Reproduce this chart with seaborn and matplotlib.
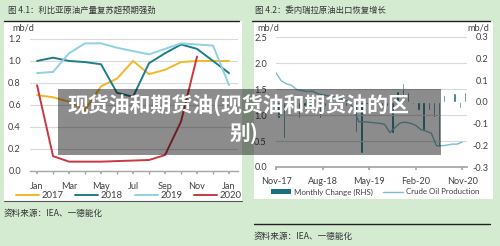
import matplotlib
matplotlib.use("Agg")
import matplotlib.pyplot as plt
import seaborn as sns
import pandas as pd
import numpy as np
from matplotlib.patches import Rectangle
from matplotlib.lines import Line2D

# ---------------- data ----------------
month_idx = list(range(13))                     # Jan .. next Jan
left_tick_pos = [0, 2, 4, 6, 8, 10, 12]
left_tick_labels = ["Jan", "Mar", "May", "Jul", "Sep", "Nov", "Jan"]
years = ["2017", "2018", "2019", "2020"]
v2017 = [0.69, 0.67, 0.63, 0.555, 0.77, 0.84, 1.00, 0.88, 0.92, 0.99, 1.00, 1.00, 1.00]
v2018 = [1.00, 1.03, 1.00, 0.99, 0.97, 0.71, 0.675, 0.98, 1.07, 1.15, 1.11, 1.00, 0.89]
v2019 = [0.89, 0.90, 1.07, 1.16, 1.16, 1.12, 1.09, 1.06, 1.11, 1.16, 1.15, 1.14, 0.78]
v2020 = [0.78, 0.135, 0.085, 0.085, 0.085, 0.09, 0.095, 0.10, 0.145, 0.45, 1.04]

ven_idx = list(range(37))                       # Nov-17 .. Nov-20
right_tick_pos = [0, 9, 18, 27, 36]
right_tick_labels = ["Nov-17", "Aug-18", "May-19", "Feb-20", "Nov-20"]
production = [1.81, 1.66, 1.60, 1.57, 1.49, 1.47, 1.45, 1.46, 1.41, 1.39, 1.37, 1.35,
              1.32, 1.30, 1.26, 1.12, 0.87, 0.87, 0.86, 0.85, 0.84, 0.82, 0.66, 0.76,
              0.85, 0.86, 0.84, 0.80, 0.72, 0.69, 0.65, 0.41, 0.41, 0.42, 0.44, 0.44, 0.48]
monthly_change = [-0.074, -0.166, -0.05, -0.03, -0.074, -0.02, -0.02, 0.01, -0.074, -0.02,
                  -0.02, -0.02, -0.03, -0.02, -0.04, -0.137, -0.237, -0.01, -0.01, -0.01,
                  -0.02, -0.02, -0.145, 0.05, 0.089, 0.047, -0.01, -0.037, -0.129, -0.037,
                  -0.068, -0.206, 0.03, 0.005, 0.04, -0.03, 0.047]

title_left = "图 4.1：利比亚原油产量复苏超预期强劲"
title_right = "图 4.2：委内瑞拉原油出口恢复增长"
source_text = "资料来源：IEA、一德能化"
overlay_line1 = "现货油和期货油(现货油和期货油的区"
overlay_line2 = "别)"

# ---------------- style ----------------
sns.set_theme(style="white")
plt.rcParams['font.family'] = ['Lato', 'Noto Sans CJK SC', 'DejaVu Sans']
CJK = ['Noto Sans CJK SC', 'DejaVu Sans']
BG = "#d4ebd2"
TXT = "#404040"
GRID = "#d9d9d9"
AXC = "#a6a6a6"
C2017, C2018, C2019, C2020 = "#f4b626", "#1d7d8c", "#8fd0e4", "#c9383f"
BAR = "#1a6f80"
PROD = "#7fbcd0"

W, H = 500, 246
def fx(x): return x / W
def fy(y): return 1 - y / H

fig = plt.figure(figsize=(5, 2.46), dpi=100, facecolor=BG)

# panel backgrounds and rules
fig.add_artist(Rectangle((fx(4), fy(200.5)), (242 - 4) / W, (200.5 - 21) / H,
                         transform=fig.transFigure, facecolor="white", edgecolor="none", zorder=-5))
fig.add_artist(Rectangle((fx(254), fy(199)), (493 - 254) / W, (199 - 21) / H,
                         transform=fig.transFigure, facecolor="white", edgecolor="none", zorder=-5))
fig.add_artist(Line2D([fx(4), fx(239)], [fy(20.5)] * 2, transform=fig.transFigure, color="#222222", lw=1.0))
fig.add_artist(Line2D([fx(252), fx(490)], [fy(20.5)] * 2, transform=fig.transFigure, color="#222222", lw=1.0))
fig.add_artist(Line2D([fx(4), fx(242)], [fy(200.7)] * 2, transform=fig.transFigure, color="#555555", lw=0.8))
fig.add_artist(Line2D([fx(254), fx(490)], [fy(224)] * 2, transform=fig.transFigure, color="#222222", lw=1.0))

fig.text(fx(8), fy(10), title_left, fontsize=6, color="#333333", family=CJK, va="center", ha="left")
fig.text(fx(255), fy(10), title_right, fontsize=6, color="#333333", family=CJK, va="center", ha="left")
fig.text(fx(4), fy(213), source_text, fontsize=6.2, color="#333333", family=CJK, va="center", ha="left")
fig.text(fx(254), fy(236), source_text, fontsize=6.2, color="#333333", family=CJK, va="center", ha="left")

# ---------------- left chart ----------------
axL = fig.add_axes([fx(30), fy(171), (238 - 30) / W, (171 - 35) / H])
axL.patch.set_visible(False)
rows = []
for yr, vals in zip(years, [v2017, v2018, v2019, v2020]):
    for m, v in zip(month_idx, vals):
        rows.append({"month": m, "value": v, "year": yr})
dfL = pd.DataFrame(rows)
sns.lineplot(data=dfL, x="month", y="value", hue="year", hue_order=years,
             palette=[C2017, C2018, C2019, C2020], linewidth=1.4, ax=axL)
axL.set_xlim(-0.44, 12.56)
axL.set_ylim(0, 1.236)
axL.set_xlabel("")
axL.set_ylabel("")
axL.set_yticks([0, 0.2, 0.4, 0.6, 0.8, 1.0, 1.2])
axL.set_yticklabels(["0.0", "0.2", "0.4", "0.6", "0.8", "1.0", "1.2"])
axL.set_xticks(left_tick_pos)
axL.set_xticklabels(left_tick_labels)
axL.set_xticks(month_idx, minor=True)
axL.yaxis.grid(True, color=GRID, lw=0.8)
axL.xaxis.grid(False)
axL.set_axisbelow(True)
for s in ["top", "right", "left"]:
    axL.spines[s].set_visible(False)
axL.spines["bottom"].set_color(AXC)
axL.spines["bottom"].set_linewidth(1.0)
axL.tick_params(axis="y", length=0, pad=6.5, labelsize=6.6, labelcolor=TXT)
axL.tick_params(axis="x", which="both", length=2.5, color=AXC, direction="out", bottom=True,
                pad=5.5, labelsize=6.6, labelcolor=TXT)
fig.text(fx(12), fy(28), "mb/d", fontsize=6.6, color=TXT, va="center", ha="left")
sns.move_legend(axL, "center", bbox_to_anchor=(fx(129), fy(196)), bbox_transform=fig.transFigure,
                ncol=4, frameon=False, title=None, fontsize=6.8, handlelength=2.4,
                columnspacing=1.25, handletextpad=0.3, labelcolor=TXT)

# ---------------- right chart ----------------
axR = fig.add_axes([fx(276), fy(167), (467 - 276) / W, (167 - 33) / H])
axR2 = axR.twinx()
axR.set_zorder(2)
axR2.set_zorder(1)
axR.patch.set_visible(False)
axR2.patch.set_visible(False)

bar_x = [i + 0.5 for i in ven_idx]
sns.barplot(x=bar_x, y=monthly_change, native_scale=True, width=0.45, color=BAR,
            saturation=1, errorbar=None, ax=axR2)
sns.lineplot(x=ven_idx, y=production, color=PROD, linewidth=1.0, ax=axR)

for a in (axR, axR2):
    a.set_xlim(0, 36.9)
    for s in ["top", "right", "left", "bottom"]:
        a.spines[s].set_visible(False)
axR.spines["bottom"].set_visible(True)
axR.spines["bottom"].set_color(AXC)
axR.set_ylim(0, 2.577)
axR2.set_ylim(-0.3, 0.318)
axR.set_yticks([0, 0.5, 1.0, 1.5, 2.0, 2.5])
axR.set_yticklabels(["0.0", "0.5", "1.0", "1.5", "2.0", "2.5"])
axR2.set_yticks([-0.3, -0.2, -0.1, 0.0, 0.1, 0.2, 0.3])
axR2.set_yticklabels(["-0.3", "-0.2", "-0.1", "0.0", "0.1", "0.2", "0.3"])
axR.set_xticks(right_tick_pos)
axR.set_xticklabels(right_tick_labels)
axR.yaxis.grid(True, color=GRID, lw=0.8)
axR.xaxis.grid(False)
axR2.grid(False)
axR.set_xlabel(""); axR.set_ylabel(""); axR2.set_ylabel(""); axR2.set_xlabel("")
axR.tick_params(axis="y", length=0, pad=6.5, labelsize=6.6, labelcolor=TXT)
axR2.tick_params(axis="y", length=0, pad=15.5, labelsize=6.6, labelcolor=TXT)
for lab in axR2.get_yticklabels():
    lab.set_horizontalalignment("right")
axR.tick_params(axis="x", length=2.5, color=AXC, direction="out", bottom=True,
                pad=5, labelsize=6.6, labelcolor=TXT)
axR2.tick_params(axis="x", bottom=False, labelbottom=False)
fig.text(fx(257), fy(28), "mb/d", fontsize=6.6, color=TXT, va="center", ha="left")
fig.text(fx(489), fy(28), "mb/d", fontsize=6.6, color=TXT, va="center", ha="right")

handles = [Rectangle((0, 0), 1, 1, facecolor=BAR, edgecolor="none"),
           Line2D([], [], color=PROD, lw=1.0)]
axR.legend(handles, ["Monthly Change (RHS)", "Crude Oil Production"], loc="center",
           bbox_to_anchor=(fx(375), fy(192)), bbox_transform=fig.transFigure, ncol=2,
           frameon=False, fontsize=5.7, handlelength=2.6, handleheight=0.45,
           columnspacing=1.3, handletextpad=0.3, labelcolor=TXT)

# ---------------- overlay banner ----------------
fig.add_artist(Rectangle((fx(58), fy(155)), (441 - 58) / W, (155 - 89) / H,
                         transform=fig.transFigure, facecolor="black", alpha=0.45,
                         edgecolor="none", zorder=20))
fig.text(fx(238), fy(106), overlay_line1, fontsize=15, fontweight="bold", color="white",
         family=CJK, ha="center", va="center", zorder=21)
fig.text(fx(244), fy(133), overlay_line2, fontsize=15, fontweight="bold", color="white",
         family=CJK, ha="center", va="center", zorder=21)

fig.savefig("out.png", dpi=100, facecolor=BG)
